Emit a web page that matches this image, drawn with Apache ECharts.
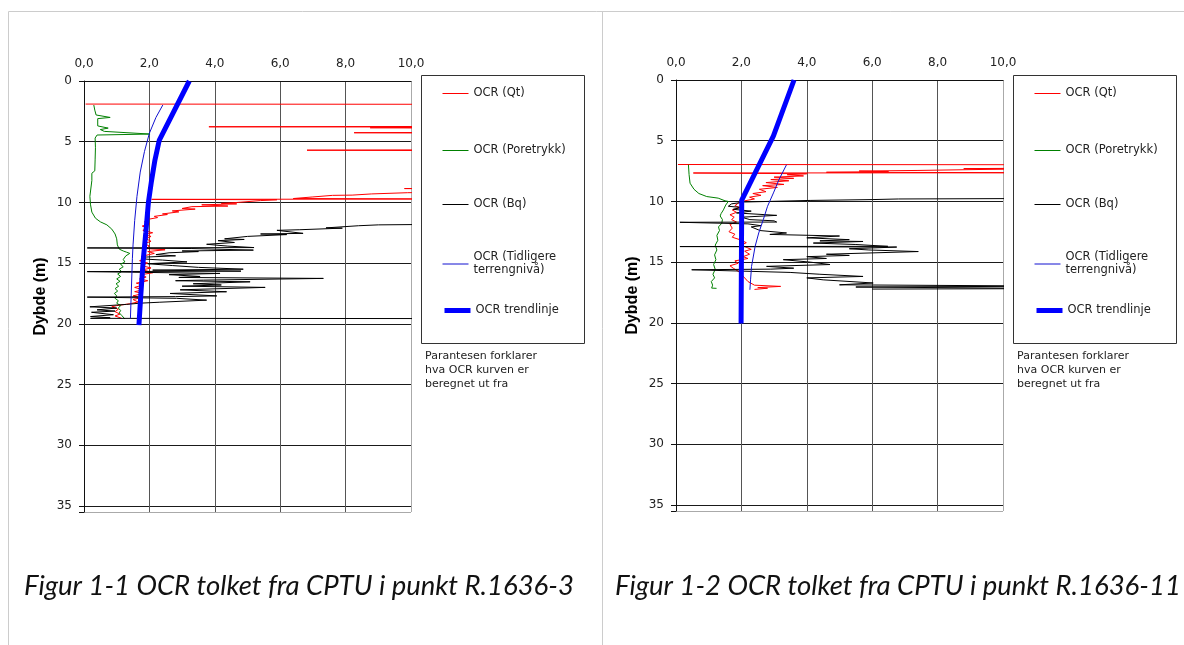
<!DOCTYPE html>
<html>
<head>
<meta charset="utf-8">
<script src="https://cdn.jsdelivr.net/npm/echarts@6/dist/echarts.min.js"></script>
<style>
  html, body { margin: 0; padding: 0; background: #fff; }
  #chart { width: 1184px; height: 645px; }
</style>
</head>
<body>
<div id="chart"></div>
<script>
// [OCR, dybde] par lest av figuren
// Figur 1-1, R.1636-3
var qt1 = [[0.05,1.90],[12,1.92],[12,3.74],[3.82,3.77],[12,3.79],[12,3.82],[8.75,3.85],[12,3.9],
  [12,4.22],[8.26,4.26],[12,4.3],[12,5.66],[6.82,5.70],[12,5.74],[12,8.82],[9.8,8.86],[12,8.9],
  [12,9.15],[9.9,9.2],[8.8,9.3],[8.2,9.4],[7.6,9.42],[7.0,9.55],[6.4,9.68],[12,9.72],[2.07,9.75],
  [5.9,9.78],[5.4,9.85],[4.7,10.0],[4.2,10.08],[4.67,10.12],[3.6,10.2],[4.4,10.3],[3.3,10.35],
  [3.0,10.5],[3.4,10.55],[2.7,10.7],[2.9,10.78],[2.4,10.95],[2.55,11.0],[2.15,11.15],[2.25,11.25],
  [1.95,11.4],[1.85,11.6],[2.0,11.75],[1.78,11.95],[1.95,12.1],[1.8,12.3],[2.1,12.5],[1.85,12.65],
  [2.05,12.8],[1.9,13.0],[2.05,13.2],[1.85,13.4],[2.0,13.6],[1.9,13.8],[2.48,13.9],[1.95,14.05],
  [2.15,14.2],[1.75,14.45],[1.9,14.6],[1.7,14.8],[1.95,15.0],[1.75,15.2],[2.05,15.4],[1.8,15.55],
  [2.1,15.8],[1.75,15.95],[1.9,16.15],[1.7,16.3],[1.95,16.45],[1.6,16.65],[1.8,16.8],[1.55,17.0],
  [1.8,17.2],[1.55,17.35],[1.8,17.5],[1.5,17.7],[1.75,17.85],[1.5,18.0],[1.65,18.2],[1.4,18.35],
  [1.0,18.5],[0.85,18.6],[1.05,18.8],[0.95,19.0],[1.1,19.2],[0.95,19.35],[1.15,19.55]];
var pore1 = [[0.3,1.98],[0.33,2.4],[0.37,2.8],[0.8,3.0],[0.42,3.1],[0.42,3.7],[0.74,3.88],[0.5,4.0],
  [0.62,4.15],[2.02,4.37],[0.4,4.45],[0.34,4.7],[0.35,5.5],[0.34,6.5],[0.33,7.4],[0.24,7.6],
  [0.24,8.2],[0.18,8.35],[0.18,9.5],[0.2,10.2],[0.24,10.8],[0.35,11.3],[0.5,11.6],[0.7,11.85],
  [0.85,12.2],[0.95,12.6],[1.0,13.0],[1.02,13.5],[1.08,13.85],[1.2,14.0],[1.3,14.1],[1.4,14.2],
  [1.28,14.4],[1.3,14.55],[1.2,14.7],[1.25,14.9],[1.12,15.1],[1.2,15.3],[1.08,15.5],[1.15,15.7],
  [1.03,15.9],[1.12,16.1],[1.0,16.3],[1.1,16.5],[0.98,16.7],[1.06,16.9],[0.95,17.1],[1.03,17.3],
  [0.93,17.5],[1.0,17.7],[0.95,17.9],[1.05,18.1],[1.0,18.3],[1.12,18.5],[1.05,18.7],[1.12,18.9],
  [1.08,19.1],[1.15,19.3],[1.25,19.6]];
var bq1 = [[12,11.78],[9.0,11.85],[8.4,11.92],[7.4,12.1],[7.9,12.12],[6.6,12.25],[5.9,12.3],
  [6.7,12.55],[5.4,12.6],[6.2,12.65],[5.0,12.8],[4.3,13.0],[4.9,13.05],[4.1,13.15],[4.6,13.3],
  [3.75,13.45],[4.4,13.6],[5.2,13.72],[0.1,13.75],[3.3,13.8],[5.18,13.93],[3.0,14.0],[3.5,14.05],
  [2.6,14.15],[2.2,14.3],[2.8,14.4],[1.9,14.5],[1.75,14.65],[2.4,14.75],[3.15,14.9],[1.95,15.05],
  [2.7,15.2],[3.5,15.35],[4.87,15.5],[2.1,15.58],[4.8,15.66],[0.1,15.7],[4.16,15.85],[2.6,15.95],
  [3.55,16.1],[2.9,16.18],[7.32,16.26],[3.65,16.4],[2.8,16.45],[5.08,16.54],[3.34,16.7],[4.2,16.8],
  [3.0,16.9],[5.54,17.0],[2.94,17.2],[4.36,17.36],[2.63,17.5],[4.06,17.7],[2.8,17.76],[0.1,17.8],
  [2.83,17.9],[3.75,18.05],[2.32,18.22],[1.71,18.3],[1.3,18.4],[0.18,18.6],[1.0,18.7],[0.4,18.85],
  [0.95,18.95],[0.23,19.05],[0.9,19.25],[0.2,19.4],[0.8,19.5],[0.2,19.55],[12,19.57]];
var early1 = [[2.41,1.98],[2.2,3.0],[2.0,4.3],[1.85,5.8],[1.72,7.5],[1.62,9.5],[1.55,11.5],
  [1.5,13.5],[1.48,14.6],[1.42,14.7],[1.42,19.55]];
var trend1 = [[3.22,0],[2.3,4.9],[2.17,6.5],[2.06,8.3],[1.97,10],[1.89,12.5],[1.81,14.8],
  [1.74,17.5],[1.68,20.1]];

// Figur 1-2, R.1636-11
var qt2 = [[0.06,6.96],[12,6.98],[12,7.25],[8.8,7.3],[10.5,7.32],[7.4,7.45],[5.6,7.5],[6.5,7.55],
  [4.6,7.6],[12,7.64],[0.53,7.66],[4.0,7.72],[3.4,7.8],[3.9,7.9],[3.0,8.0],[3.6,8.1],[2.9,8.2],
  [3.45,8.3],[2.75,8.45],[3.3,8.6],[2.65,8.7],[3.1,8.85],[2.55,9.0],[2.75,9.2],[2.35,9.35],
  [2.6,9.5],[2.25,9.65],[2.4,9.8],[2.1,9.95],[1.9,10.15],[1.8,10.35],[1.95,10.5],[1.72,10.7],
  [1.85,10.9],[1.65,11.1],[1.78,11.3],[1.7,11.5],[1.85,11.7],[1.65,11.9],[1.72,12.2],[1.62,12.5],
  [1.8,12.7],[1.72,12.95],[1.95,13.15],[2.15,13.4],[2.0,13.6],[2.3,13.95],[2.1,14.1],[2.25,14.35],
  [2.05,14.55],[2.2,14.7],[1.8,14.9],[1.9,15.1],[1.65,15.3],[1.75,15.5],[1.9,15.75],[2.0,16.0],
  [2.1,16.3],[2.2,16.6],[2.4,16.9],[3.2,17.0],[2.5,17.1],[2.8,17.15],[2.4,17.25]];
var pore2 = [[0.38,6.98],[0.4,7.8],[0.43,8.5],[0.55,9.0],[0.7,9.35],[0.94,9.6],[1.29,9.73],
  [1.5,9.95],[1.6,10.0],[1.52,10.3],[1.45,10.7],[1.38,11.0],[1.35,11.2],[1.42,11.5],[1.4,11.8],
  [1.3,12.1],[1.33,12.4],[1.25,12.8],[1.28,13.2],[1.2,13.6],[1.25,14.0],[1.18,14.4],[1.22,14.8],
  [1.15,15.2],[1.2,15.6],[1.13,16.0],[1.18,16.3],[1.08,16.6],[1.12,16.9],[1.09,17.14],[1.24,17.16]];
var bq2 = [[12,9.75],[6.8,9.8],[6.0,9.85],[4.1,9.92],[2.1,10.05],[1.7,10.2],[1.6,10.4],[2.0,10.5],
  [1.75,10.65],[2.3,10.8],[1.85,10.95],[3.08,11.15],[2.0,11.3],[2.26,11.5],[3.0,11.6],[3.08,11.7],
  [0.12,11.72],[2.2,11.85],[2.6,12.0],[2.3,12.1],[2.57,12.4],[3.38,12.6],[2.87,12.72],[5.0,12.85],
  [4.0,13.0],[5.3,13.15],[4.4,13.25],[5.72,13.3],[4.2,13.43],[5.5,13.55],[6.48,13.7],[0.12,13.72],
  [6.75,13.76],[5.3,13.9],[5.9,14.0],[7.41,14.13],[4.6,14.35],[5.3,14.45],[4.0,14.55],[4.6,14.7],
  [3.28,14.8],[4.1,15.0],[4.71,15.2],[2.77,15.35],[3.6,15.5],[2.9,15.58],[0.48,15.63],[3.49,15.85],
  [4.4,16.0],[5.72,16.18],[4.0,16.3],[4.5,16.46],[6.03,16.72],[5.0,16.87],[12,16.98],[5.5,17.05],
  [12,17.18],[6.0,17.22]];
var early2 = [[3.38,6.98],[3.15,8.2],[2.98,9.3],[2.8,10.4],[2.67,11.5],[2.53,12.6],[2.42,13.7],
  [2.31,15.36],[2.28,16.46],[2.26,17.28]];
var trend2 = [[3.61,0],[2.98,4.6],[2.01,9.9],[2.0,15],[1.99,20.05]];

var ocrTicks = [0, 2, 4, 6, 8, 10];
var depthTicks = [0, 5, 10, 15, 20, 25, 30, 35];
var depthMax = 35.5;

var names = ['OCR (Qt)', 'OCR (Poretrykk)', 'OCR (Bq)', 'OCR (Tidligere\nterrengnivå)', 'OCR trendlinje'];
var colors = ['#ff0000', '#008000', '#000000', '#1010d0', '#0000ff'];
var widths = [1, 1, 1, 1, 5];
var captions = ['Figur 1-1 OCR tolket fra CPTU i punkt R.1636-3', 'Figur 1-2 OCR tolket fra CPTU i punkt R.1636-11'];
var note = 'Parantesen forklarer\nhva OCR kurven er\nberegnet ut fra';

var panels = [
  { left: 84, top: 81, legendX: 421, capX: 24, data: [qt1, pore1, bq1, early1, trend1] },
  { left: 676, top: 80, legendX: 1013, capX: 615, data: [qt2, pore2, bq2, early2, trend2] }
];
var legendTops = [87, 144, 198, 251, 304];

var grids = [], xAxes = [], yAxes = [], series = [], legends = [], graphics = [];

panels.forEach(function (p, i) {
  grids.push({ left: p.left, top: p.top, width: 327, height: 431 });
  xAxes.push({
    type: 'value', gridIndex: i, position: 'top',
    min: ocrTicks[0], max: ocrTicks[ocrTicks.length - 1], interval: 2,
    axisLine: { show: true, lineStyle: { color: '#111' } },
    axisTick: { show: false },
    axisLabel: {
      margin: 11, fontSize: 12, color: '#222',
      formatter: function (v) { return v.toFixed(1).replace('.', ','); }
    },
    splitLine: { show: true, lineStyle: { color: ['#111', '#555', '#555', '#555', '#555', '#aaa'] } }
  });
  yAxes.push({
    type: 'value', gridIndex: i, inverse: true,
    min: depthTicks[0], max: depthMax, interval: 5,
    name: 'Dybde (m)', nameLocation: 'middle', nameGap: 35,
    nameTextStyle: { fontWeight: 'bold', fontSize: 16, color: '#000', fontFamily: 'Liberation Sans' },
    axisLine: { show: true, onZero: false, lineStyle: { color: '#111' } },
    axisTick: { show: true, length: 5, lineStyle: { color: '#111' } },
    axisLabel: {
      margin: 12, fontSize: 12, color: '#222',
      formatter: function (v) { return depthTicks.indexOf(v) >= 0 ? String(v) : ''; }
    },
    splitLine: { show: true, lineStyle: { color: ['#1a1a1a', '#1a1a1a', '#1a1a1a', '#1a1a1a', '#1a1a1a', '#1a1a1a', '#1a1a1a', '#1a1a1a', '#aaa'] } }
  });
  p.data.forEach(function (d, k) {
    series.push({
      name: names[k], type: 'line', xAxisIndex: i, yAxisIndex: i,
      data: d, symbol: 'none', clip: true, z: 2 + k,
      lineStyle: { color: colors[k], width: widths[k] },
      itemStyle: { color: colors[k] }
    });
  });
  names.forEach(function (n, k) {
    legends.push({
      data: [n], left: p.legendX + 21, top: legendTops[k], padding: 0,
      itemWidth: 26, itemHeight: 13, selectedMode: false,
      itemStyle: { opacity: 0 },
      lineStyle: { width: widths[k] },
      textStyle: { fontSize: 11.5, color: '#222', lineHeight: 13 }
    });
  });
  graphics.push({
    type: 'rect',
    shape: { x: p.legendX + 0.5, y: 75.5, width: 163, height: 268 },
    style: { fill: 'none', stroke: '#333', lineWidth: 1 }
  });
  graphics.push({
    type: 'text', left: p.legendX + 4, top: 349,
    style: { text: note, fontSize: 11, lineHeight: 14, fill: '#222', fontFamily: 'DejaVu Sans' }
  });
  graphics.push({
    type: 'text', left: p.capX, top: 573,
    style: { text: captions[i], fontSize: 27.5, fontStyle: 'italic', fill: '#111', fontFamily: 'Lato' }
  });
});

// ramme rundt figurene
graphics.push({ type: 'line', shape: { x1: 8.5, y1: 11.5, x2: 1184, y2: 11.5 }, style: { stroke: '#ccc' } });
graphics.push({ type: 'line', shape: { x1: 8.5, y1: 11.5, x2: 8.5, y2: 645 }, style: { stroke: '#ccc' } });
graphics.push({ type: 'line', shape: { x1: 602.5, y1: 11.5, x2: 602.5, y2: 645 }, style: { stroke: '#ccc' } });

var chart = echarts.init(document.getElementById('chart'));
chart.setOption({
  animation: false,
  textStyle: { fontFamily: 'DejaVu Sans' },
  grid: grids,
  xAxis: xAxes,
  yAxis: yAxes,
  legend: legends,
  series: series,
  graphic: graphics
});
</script>
</body>
</html>
